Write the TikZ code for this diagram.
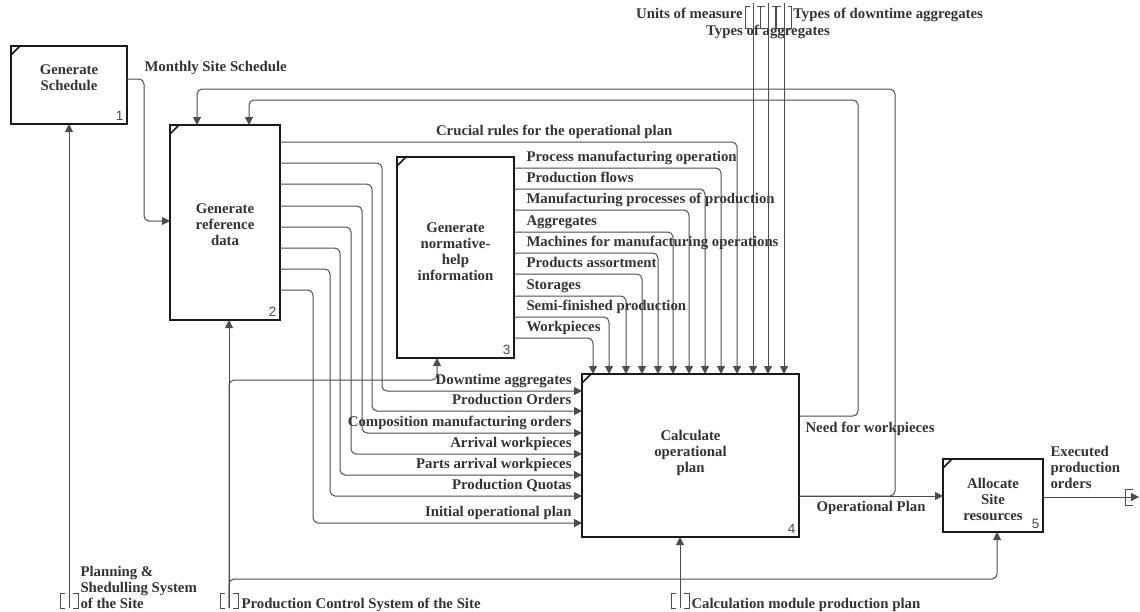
\documentclass[tikz,border=0pt]{standalone}
\usepackage{fontspec}
\setmainfont{Liberation Serif}
\newfontfamily\numfont{Liberation Sans}
\usepackage{tikz}
\usetikzlibrary{arrows.meta,positioning}

\begin{document}
\begin{tikzpicture}[x=1pt, y=-1pt, >={Triangle[length=8pt,width=8pt]},
    font=\bfseries\fontsize{14.8}{16}\selectfont,
    func/.style={draw=black!90, line width=2.2pt, fill=white, anchor=north west, outer sep=0pt, align=center, text=black!80,
        path picture={\draw[line width=1.6pt] ([yshift=-9pt]path picture bounding box.north west) -- ([xshift=9pt]path picture bounding box.north west);}},
    num/.style={font=\numfont\fontsize{13.5}{13.5}\selectfont, text=black!70, anchor=south east, inner sep=3.5pt},
    flow/.style={draw=black!70, line width=1pt, rounded corners=5pt, ->},
    lbl/.style={text=black!80, inner sep=2pt, text height=10pt, text depth=3pt},
    lblm/.style={text=black!80, inner sep=2pt, align=left},
    tun/.style={draw=black!70, line width=1pt}]

    \useasboundingbox (0,0) rectangle (1140,611);

    % Function boxes
    \node[func, minimum width=116pt, minimum height=78pt, text depth=14pt] (B1) at (11,46) {Generate\\Schedule};
    \node[func, minimum width=110pt, minimum height=195pt, text height=46pt] (B2) at (170,125) {Generate\\reference\\data};
    \node[func, minimum width=117pt, minimum height=201pt, text depth=12pt] (B3) at (397,157) {Generate\\normative-\\help\\information};
    \node[func, minimum width=217pt, minimum height=163pt, text depth=9pt] (B4) at (582,374) {Calculate\\operational\\plan};
    \node[func, minimum width=100pt, minimum height=73pt, text height=50pt] (B5) at (943,459) {Allocate\\Site\\resources};
    \node[num] at (B1.south east) {1};
    \node[num] at (B2.south east) {2};
    \node[num] at (B3.south east) {3};
    \node[num] at (B4.south east) {4};
    \node[num] at (B5.south east) {5};

    % Tunnel ends
    \coordinate (T1) at (753,3);
    \coordinate (T2) at (768,3);
    \coordinate (T3) at (784,3);
    \coordinate (P1) at (69,608);
    \coordinate (P2) at (229,608);
    \coordinate (P3) at (680,608);
    \coordinate (O1) at (1139,497);

    % Schedule to reference data
    \draw[flow] (B1.east |- 0,79) -- ++(17,0) node[lbl, above right=4pt and 0pt, inner sep=0pt] {Monthly Site Schedule} |- (B2.west |- 0,221);

    % Feedback from box 4
    \draw[flow] (B4.east |- 0,496) -| (895,89) -| (B2.north -| 197,0);
    \draw[flow] (B4.east |- 0,416) node[lbl, below right, xshift=4pt, yshift=-4pt] {Need for workpieces} -| (858,100) -| (B2.north -| 249,0);
    \draw[flow] (B4.east |- 0,496) -- node[lbl, below, yshift=-3pt] {Operational Plan} (B5.west |- 0,496);
    \draw[flow] (B5.east |- 0,497) node[lblm, anchor=south west, xshift=5pt, yshift=6pt] {Executed\\production\\orders} -- (O1);

    % Reference data to box 4
    \draw[flow] (B2.east |- 0,142) -| node[lbl, above, pos=0.3, yshift=1pt] {Crucial rules for the operational plan} (B4.north -| 737,0);
    \foreach \ya/\xv/\yb/\txt in {163/382/391/Downtime aggregates, 184/372/411/Production Orders,
        206/362/433/Composition manufacturing orders, 227/351/454/Arrival workpieces,
        248/340/475/Parts arrival workpieces, 269/330/496/Production Quotas, 290/313/523/Initial operational plan}
        \draw[flow] (B2.east |- 0,\ya) -| (\xv,\yb) -- node[lbl, above left, pos=1, xshift=-8pt, yshift=1pt] {\txt} (B4.west |- 0,\yb);

    % Normative-help information to box 4
    \foreach \ya/\xv/\txt in {168/721/Process manufacturing operation, 189/705/Production flows,
        210/689/Manufacturing processes of production, 232/673/Aggregates,
        253/658/Machines for manufacturing operations, 274/642/Products assortment,
        296/626/Storages, 317/609/Semi-finished production, 338/593/Workpieces}
        \draw[flow] (B3.east |- 0,\ya) -| node[lbl, above right, pos=0, xshift=10pt, yshift=1pt] {\txt} (B4.north -| \xv,0);

    % Controls from outside
    \foreach \t in {T1,T2,T3}
        \draw[flow] (\t) -- (B4.north -| \t);
    \node[lbl, anchor=east] (units) at (745,15) {Units of measure};
    \node[lbl, anchor=west] (downt) at (791,15) {Types of downtime aggregates};
    \node[lbl] (aggr) at (768,32) {Types of aggregates};

    % Mechanisms
    \draw[flow] (P1) node[lblm, anchor=south west, xshift=9pt, yshift=-3pt] {Planning \&\\Shedulling System\\of the Site} -- (P1 |- B1.south);
    \draw[flow] (P2) node[lbl, anchor=base west, xshift=10pt] {Production Control System of the Site} -- (P2 |- B2.south);
    \draw[flow] (P2) |- (437,380) -- (B3.south -| 437,0);
    \draw[flow] (P2) |- (997,579) -- (B5.south -| 997,0);
    \draw[flow] (P3) node[lbl, anchor=base west, xshift=9pt] {Calculation module production plan} -- (P3 |- B4.south);

    % Tunnel brackets
    \foreach \t in {T1,T2,T3} {
        \draw[tun] (\t) ++(-3.5,3) -- ++(-4,0) -- ++(0,22) -- ++(4,0);
        \draw[tun] (\t) ++(3.5,3) -- ++(4,0) -- ++(0,22) -- ++(-4,0);
    }
    \foreach \t in {P1,P2,P3} {
        \draw[tun] (\t) ++(-4,-15) -- ++(-5,0) -- ++(0,15) -- ++(5,0);
        \draw[tun] (\t) ++(4,-15) -- ++(5,0) -- ++(0,15) -- ++(-5,0);
    }
    \draw[tun] (O1) ++(-6,-8) -- ++(-8,0) -- ++(0,16) -- ++(8,0);

\end{tikzpicture}
\end{document}
